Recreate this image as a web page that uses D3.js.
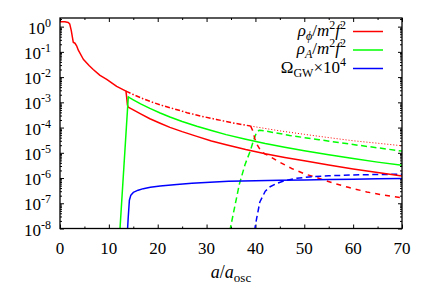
<!DOCTYPE html>
<html><head><meta charset="utf-8">
<script src="https://cdn.jsdelivr.net/npm/d3@7"></script>
</head><body style="margin:0">
<svg id="c" width="436" height="305" style="font-family:'Liberation Serif'"></svg>
<script>
// ---- data ----
const xTicks = [0, 10, 20, 30, 40, 50, 60, 70];
const xMinorTicks = [5, 15, 25, 35, 45, 55, 65];
const yTickExps = [0, -1, -2, -3, -4, -5, -6, -7, -8];

// rho_phi / m^2 f^2  (solid red)
const rhoPhi = [
  [0,1.55],[1.0,1.55],[1.7,1.46],[2.0,1.26],[2.3,0.71],[2.72,0.24],[3.07,0.22],[3.4,0.174],
  [3.75,0.117],[4.77,0.051],[6.0,0.028],[6.8,0.020],[8.19,0.0117],[9.56,0.0081],[11.6,0.0043],
  [13.5,0.00278],[13.65,0.00158],[13.8,7.9e-4],[13.95,6.5e-4],[15,5.0e-4],[16.5,3.5e-4],
  [18.4,2.24e-4],[20.5,1.48e-4],[22.5,1.02e-4],[25,6.9e-5],[28,4.47e-5],[31,2.95e-5],
  [34,2.09e-5],[38,1.35e-5],[42,9.1e-6],[46,6.5e-6],[50,4.8e-6],[55,3.3e-6],[60,2.3e-6],
  [65,1.66e-6],[70,1.2e-6]
];
// rho_A / m^2 f^2 (solid green)
const rhoA = [
  [12.2,5.6e-9],[13.98,1.66e-3],[14.3,1.51e-3],[15,1.26e-3],[16.5,8.7e-4],[18.4,5.75e-4],
  [20.5,3.8e-4],[22.5,2.63e-4],[25,1.74e-4],[28,1.12e-4],[31,7.6e-5],[34,5.25e-5],[38,3.47e-5],
  [42,2.34e-5],[46,1.66e-5],[50,1.2e-5],[55,8.3e-6],[60,5.9e-6],[65,4.27e-6],[70,3.24e-6]
];
// Omega_GW x 10^4 (solid blue)
const omegaGW = [
  [13.75,5e-9],[13.95,2.5e-8],[14.2,1.32e-7],[14.5,2.1e-7],[15.0,2.7e-7],[16,3.3e-7],
  [17.05,3.8e-7],[18.5,4.27e-7],[20.5,4.8e-7],[23.9,5.6e-7],[27,6.2e-7],[30.7,6.8e-7],
  [34.5,7.4e-7],[40,7.8e-7],[45,8.1e-7],[50,8.3e-7],[55,8.7e-7],[60,8.9e-7],[65,9.3e-7],[70,9.5e-7]
];
// second run: rho_phi before transfer (dash-dot red)
const rhoPhiBefore = [
  [13.5,2.78e-3],[15,2.04e-3],[17,1.38e-3],[19,1.0e-3],[21,7.4e-4],[23.5,5.4e-4],[26,3.9e-4],
  [29,2.8e-4],[32,2.1e-4],[35,1.58e-4],[39,1.15e-4]
];
// rho_phi without transfer (dotted red)
const rhoPhiFree = [
  [39,1.15e-4],[45,7.4e-5],[50,5.4e-5],[55,4.0e-5],[60,3.0e-5],[65,2.4e-5],[70,1.9e-5]
];
// second run (dashed)
const rhoPhiLate = [
  [39,1.15e-4],[39.4,7.9e-5],[39.9,3.55e-5],[40.4,2.0e-5],[41.2,1.12e-5],[42.0,8.9e-6],
  [42.6,7.9e-6],[44.7,4.5e-6],[47.4,2.4e-6],[50.1,1.45e-6],[53.2,9.5e-7],[55.9,6.3e-7],
  [59,4.3e-7],[62.8,2.8e-7],[66,2.14e-7],[70,1.66e-7]
];
const rhoALate = [
  [34.75,7.9e-9],[35.8,7.9e-8],[36.7,5.6e-7],[37.9,3.55e-6],[38.9,1.12e-5],[39.7,3.55e-5],
  [40.3,6.8e-5],[40.8,7.9e-5],[42,7.4e-5],[44,6.2e-5],[47,4.9e-5],[50,4.0e-5],[53,3.3e-5],
  [57,2.57e-5],[61,2.0e-5],[65,1.58e-5],[70,1.17e-5]
];
const omegaGWLate = [
  [39.8,7.9e-9],[40.25,2.5e-8],[40.9,1.12e-7],[42.0,3.0e-7],[43.0,4.5e-7],[44.2,5.9e-7],
  [46,7.9e-7],[48.4,9.8e-7],[51.5,1.12e-6],[55,1.23e-6],[60,1.32e-6],[65,1.38e-6],[70,1.41e-6]
];

// ---- layout ----
const L = 60, R = 402, T = 18, B = 228.5;
const RED = "#ff0000", GREEN = "#00ff00", BLUE = "#0000ff";
const FONT = "Liberation Serif";

const x = d3.scaleLinear().domain([0, 70]).range([L, R]);
const y = d3.scaleLog().domain([1e-8, 2.2]).range([B, T]);

const svg = d3.select("#c");

// clip
svg.append("defs").append("clipPath").attr("id", "clip")
  .append("rect").attr("x", L).attr("y", T).attr("width", R - L).attr("height", B - T);

// ticks (inward, on all four sides)
const majorY = yTickExps.map(e => Math.pow(10, e));
const minorY = [];
yTickExps.forEach(e => { if (e < 0) for (let k = 2; k <= 9; k++) minorY.push(k * Math.pow(10, e)); });
minorY.push(2);

function tickAxis(axisFn, scale, vals, size, transform) {
  const g = svg.append("g").attr("transform", transform)
    .call(axisFn(scale).tickValues(vals).tickSize(size).tickFormat(""));
  g.select(".domain").remove();
  g.selectAll("line").attr("stroke", "#000").attr("stroke-width", 1);
}
tickAxis(d3.axisBottom, x, xTicks, -4, `translate(0,${B})`);
tickAxis(d3.axisBottom, x, xMinorTicks, -2, `translate(0,${B})`);
tickAxis(d3.axisTop, x, xTicks, -4, `translate(0,${T})`);
tickAxis(d3.axisTop, x, xMinorTicks, -2, `translate(0,${T})`);
tickAxis(d3.axisLeft, y, majorY, -4, `translate(${L},0)`);
tickAxis(d3.axisLeft, y, minorY, -2, `translate(${L},0)`);
tickAxis(d3.axisRight, y, majorY, -4, `translate(${R},0)`);
tickAxis(d3.axisRight, y, minorY, -2, `translate(${R},0)`);

// curves
const line = d3.line().x(d => x(d[0])).y(d => y(d[1]));
const plot = svg.append("g").attr("clip-path", "url(#clip)");
function curve(data, color, dash, w) {
  plot.append("path").datum(data).attr("d", line).attr("fill", "none")
    .attr("stroke", color).attr("stroke-width", w || 1.5)
    .attr("stroke-dasharray", dash || null).attr("stroke-linejoin", "round");
}
curve(rhoPhiFree, RED, "1,2", 1);
curve(rhoPhiBefore, RED, "5,2,1.5,2");
curve(rhoALate, GREEN, "6,3.5");
curve(rhoPhiLate, RED, "5,5");
curve(omegaGWLate, BLUE, "6,3.5");
curve(rhoPhi, RED);
curve(rhoA, GREEN);
curve(omegaGW, BLUE);

// frame
svg.append("rect").attr("x", L).attr("y", T).attr("width", R - L).attr("height", B - T)
  .attr("fill", "none").attr("stroke", "#000").attr("stroke-width", 1.3);

// texts
function txt(xp, yp, size, anchor) {
  return svg.append("text").attr("x", xp).attr("y", yp)
    .attr("font-family", FONT).style("font-family", "'Liberation Serif'")
    .attr("font-size", size).attr("text-anchor", anchor);
}
xTicks.forEach(v => { txt(x(v), 254, 17, "middle").text(String(v)); });
yTickExps.forEach(e => {
  const t = txt(51, y(Math.pow(10, e)) + 7, 17, "end");
  t.append("tspan").text("10");
  t.append("tspan").attr("dy", -7).attr("font-size", 12).text(String(e));
});
const xt = txt((L + R) / 2, 278, 18, "middle");
xt.append("tspan").attr("font-style", "italic").text("a");
xt.append("tspan").text("/");
xt.append("tspan").attr("font-style", "italic").text("a");
xt.append("tspan").attr("dy", 4).attr("font-size", 13).text("osc");

const legend = [
  {color: RED, parts: [["ρ","i",0,17],["ϕ","i",4,12],["/","n",-4,17],["m","i",0,17],["2","n",-7,12],["f","i",7,17],["2","n",-7,12]]},
  {color: GREEN, parts: [["ρ","i",0,17],["A","i",4,12],["/","n",-4,17],["m","i",0,17],["2","n",-7,12],["f","i",7,17],["2","n",-7,12]]},
  {color: BLUE, parts: [["Ω","n",0,17],["GW","n",4,12],["×10","n",-4,17],["4","n",-7,12]]}
];
const legendY = [31.5, 50, 68.5];
legend.forEach((e, i) => {
  const ly = legendY[i];
  const t = txt(346, ly + 4, 17, "end");
  e.parts.forEach(p => {
    t.append("tspan").attr("dy", p[2]).attr("font-size", p[3])
      .attr("font-style", p[1] === "i" ? "italic" : "normal").text(p[0]);
  });
  svg.append("line").attr("x1", 353).attr("x2", 383).attr("y1", ly).attr("y2", ly)
    .attr("stroke", e.color).attr("stroke-width", 1.5);
});
</script>
</body></html>
